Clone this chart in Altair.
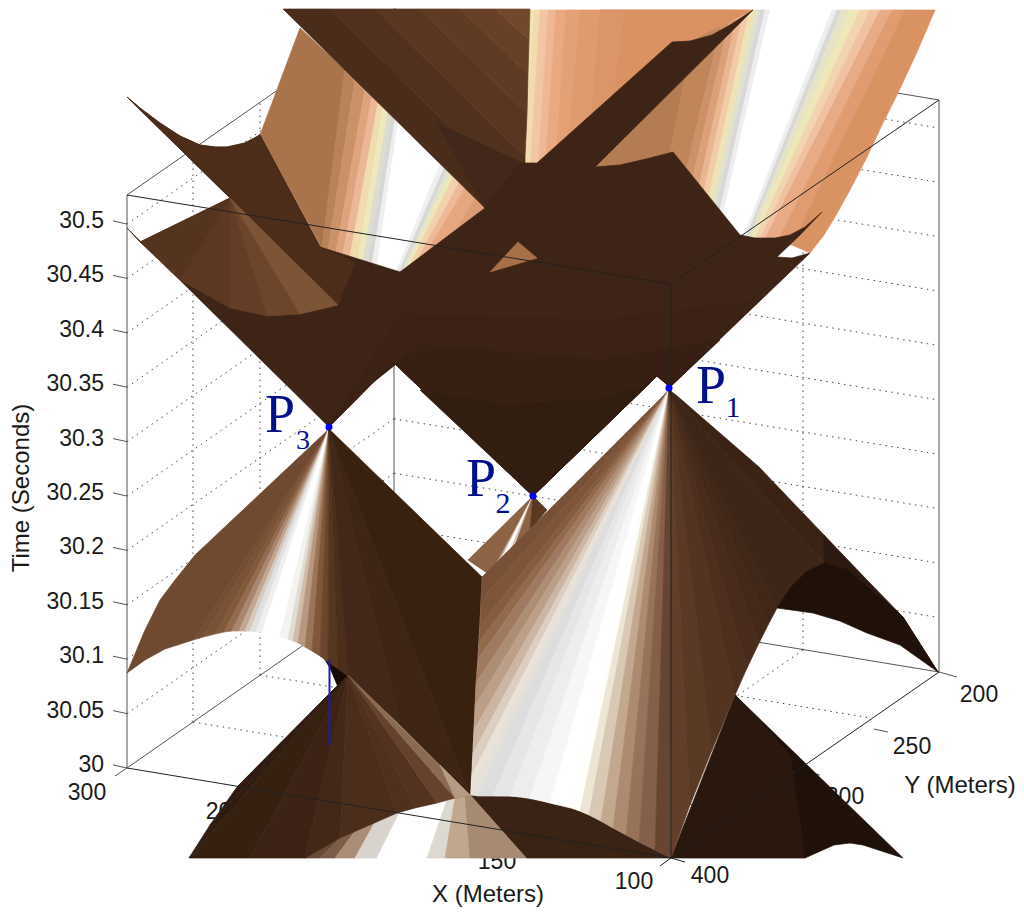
import altair as alt
import pandas as pd

Z_TICKS = ["30", "30.05", "30.1", "30.15", "30.2", "30.25", "30.3", "30.35", "30.4", "30.45", "30.5"]

def fan(apex, edge, colors):
    return [(c, [apex, edge[i], edge[i + 1]]) for i, c in enumerate(colors)]

def strips(tops, bots, colors):
    return [(c, [tops[i], tops[i + 1], bots[i + 1], bots[i]]) for i, c in enumerate(colors)]

# upper rear sheet, left window
A_TOP = [(300, 28), (345, 70), (355, 80), (365, 90), (372, 97), (378, 103), (383, 107), (388, 112), (392, 116),
         (395, 119), (398, 122), (440, 164), (444, 168), (447, 171), (450, 174), (453, 177), (459, 183), (465, 188),
         (475, 198), (485, 208)]
A_BOT = [(260, 135), (322, 248), (328, 250), (336, 252), (343, 254), (350, 257), (358, 259), (363, 261), (368, 263),
         (372, 265), (377, 267), (396, 272), (399, 272), (402, 272), (405, 270), (409, 267), (416, 262), (425, 255),
         (455, 232), (485, 208)]
A_COL = ["#a9734c", "#b98359", "#cb9269", "#dea47e", "#ecb796", "#f0dcae", "#eee9bd", "#dcdcd0", "#d6d6d6", "#efefef",
         "#ffffff", "#efefef", "#d8d8d8", "#e4e4cc", "#eee8b8", "#f2d2ac", "#efb998", "#e4a780", "#dc9d76"]
SHEET_A = strips(A_TOP, A_BOT, A_COL) + [("#b98359", [(320, 247), (322, 248), (260, 135)])]

# upper rear sheet, right window, below the dark band
S_TOP = [600, 700, 725, 732, 738, 744, 750, 755, 760, 765, 770, 832, 837, 842, 851, 860, 870, 880, 892, 905]
S_BOT = [560, 650, 668, 677, 686, 692, 698, 703, 708, 712, 716, 740, 743, 746, 749, 752, 757, 762, 776, 792]
S_COL = ["#b47c52", "#c08659", "#cc9168", "#dba079", "#eab692", "#f2cba9", "#efe3b4", "#e2e2cc", "#d8d8d8", "#eeeeee",
         "#ffffff", "#eeeeee", "#d8d8d8", "#e6e4c4", "#eee8b8", "#f2d4ae", "#f0c2a2", "#e8ab86", "#e09c70"]
SHEET_S = strips([(x, 10) for x in S_TOP], [(x, 245) for x in S_BOT], S_COL) + [
    ("#d99262", [(905, 10), (935, 10), (917, 52), (898, 93), (882, 125), (867, 157), (851, 188), (835, 217), (824, 235),
                 (810, 253), (792, 245)])]

# upper rear sheet, right window, above the dark band
Q_TOP = [528, 534, 540, 548, 556, 566, 580, 600, 625, 753]
Q_BOT = [(518, 170), (524, 170), (530, 170), (538, 170), (545, 170), (555, 170), (566, 165), (590, 140), (612, 118), (700, 36)]
Q_COL = ["#eee6b8", "#f2dcae", "#f3c6a3", "#efb793", "#eaa981", "#e4a176", "#df9a6e", "#dc9568", "#db9263"]
SHEET_Q = strips([(x, 10) for x in Q_TOP], Q_BOT, Q_COL)

TOP_SHEET = [
    ("#4a2c1a", [(283, 9), (330, 9), (525, 201), (485, 208)]),
    ("#51311d", [(330, 9), (375, 9), (525, 157), (525, 201)]),
    ("#583620", [(375, 9), (420, 9), (527, 114), (525, 157)]),
    ("#603b23", [(420, 9), (460, 9), (528, 74), (527, 114)]),
    ("#683f27", [(460, 9), (495, 9), (529, 40), (528, 74)]),
    ("#72482c", [(495, 9), (530, 9), (529, 40)]),
    ("#42281a", [(437, 123), (522, 163), (485, 208)]),
]
MAIN_DARK = [
    ("#3e2416", [(127, 97), (140, 108), (160, 123), (180, 136), (200, 145), (215, 147), (227, 147), (245, 143), (260, 135),
                 (320, 247), (400, 272), (485, 208), (520, 163), (537, 163), (672, 42), (690, 41), (712, 35), (730, 25),
                 (753, 10), (595, 167), (620, 165), (650, 158), (673, 152), (740, 235), (755, 238), (775, 238), (790, 235),
                 (805, 227), (822, 212), (800, 235), (777, 257), (792, 258), (810, 253), (670, 387), (657, 376), (533, 496),
                 (393, 362), (329, 427), (127, 228), (140, 242), (155, 249), (170, 252), (185, 249), (198, 241), (213, 227),
                 (223, 212), (230, 198)]),
    ("#3b2215", [(329, 427), (393, 362), (533, 496), (657, 376), (670, 387), (760, 300), (600, 320), (400, 315)]),
    ("#372013", [(329, 427), (393, 362), (533, 496), (657, 376), (670, 387), (720, 340), (600, 360), (420, 345), (370, 385)]),
    ("#321d11", [(420, 390), (533, 496), (650, 383), (600, 400), (500, 405)]),
    ("#4b2d1a", [(127, 97), (140, 108), (160, 123), (180, 136), (200, 145), (215, 147), (227, 147), (245, 143), (260, 135),
                 (320, 247), (355, 262), (338, 305), (230, 198)]),
    ("#55341f", [(140, 242), (155, 249), (170, 252), (185, 249), (198, 241), (213, 227), (223, 212), (230, 198)]),
]
F_EDGE = [(140, 242), (180, 280), (230, 308), (267, 316), (300, 314), (338, 305)]
F_COL = ["#55341f", "#5c3822", "#633d25", "#6d452b", "#7e5436"]
MAIN_DARK += fan((230, 198), F_EDGE, F_COL)
MAIN_DARK += [("#a87048", [(490, 272), (518, 242), (537, 258)])]

CONE_2 = fan((533, 496), [(468, 560), (490, 575), (498, 565), (508, 555), (514, 548), (530, 530), (547, 510)],
             ["#8c6344", "#c0a58f", "#ffffff", "#d8c8b8", "#8c6344", "#5a3822"])
SLIVER = [("#140a05", [(322, 655), (348, 675), (338, 687), (330, 668)])]

C3_ARC = [(193, 640), (203, 637), (215, 634), (224, 632), (232, 631), (239, 631), (245, 631), (250, 631), (256, 632),
          (262, 633), (280, 637), (288, 639), (293, 641), (298, 643), (305, 647), (312, 651), (320, 656), (328, 662),
          (338, 669), (348, 676), (400, 725), (470, 795), (482, 577)]
C3_COL = ["#744d32", "#7a5237", "#83593c", "#946b4e", "#a98670", "#c2a692", "#d6c9bd", "#e0e0e0", "#efefef", "#ffffff",
          "#f4f3ef", "#e0dcd4", "#d0bca8", "#b89880", "#9c7558", "#80573b", "#6b462c", "#57361f", "#4c2e1b", "#43281a",
          "#3f2516", "#38210f"]
CONE_3 = [("#6f4a30", [(329, 429), (195, 555), (175, 580), (160, 600), (145, 630), (127, 673), (145, 660), (165, 649), (193, 640)])] + \
    fan((329, 429), C3_ARC, C3_COL)

B_TOP = [(305, 858), (320, 849), (340, 838), (355, 831), (375, 822), (400, 812), (447, 800), (455, 798), (465, 796), (471, 795)]
B_BOT = [(305, 858), (305, 858), (320, 858), (335, 858), (355, 858), (377, 858), (427, 858), (445, 858), (470, 858), (527, 858)]
B_COL = ["#5a3a25", "#6a4a35", "#7c5d47", "#a98d76", "#d8d3cc", "#ffffff", "#dcdad0", "#c2a78f", "#a78a72"]
BOTTOM_LIT = strips(B_TOP, B_BOT, B_COL)

L_EDGE = [(338, 687), (290, 735), (237, 787), (210, 825), (189, 858), (250, 858), (305, 858), (340, 838), (397, 813),
          (415, 808), (437, 803), (455, 798), (470, 795)]
L_COL = ["#2f1b10", "#2f1b10", "#2f1b10", "#2f1b10", "#36200f", "#3c2315", "#432818", "#4a2d1b", "#4f301d", "#53331f", "#64422b", "#8a6a52"]
BOTTOM_LEFT = fan((348, 675), L_EDGE, L_COL) + [("#b59a84", [(440, 765), (470, 795), (455, 798)])]

FRONT_DARK = [
    ("#3a2214", [(471, 795), (518, 797), (545, 802), (571, 808), (589, 815), (613, 828), (639, 842), (671, 858), (527, 858)]),
    ("#2a170d", [(671, 858), (735, 695), (790, 755), (805, 858)]),
    ("#1f1109", [(735, 695), (903, 858), (863, 845), (850, 843), (834, 845), (805, 858), (790, 755)]),
]
C1_EDGE = [(482, 577), (481, 600), (480, 625), (479, 642), (478, 659), (476, 683), (475, 706), (474, 730), (473, 753),
           (472, 775), (471, 795), (478, 796), (493, 796), (510, 796), (530, 798), (550, 803), (571, 808), (580, 811),
           (589, 815), (601, 821), (613, 828), (626, 835), (639, 842), (655, 850), (671, 858), (690, 805), (712, 750),
           (735, 695), (747, 668), (759, 643), (768, 625), (777, 608), (824, 563)]
C1_COL = ["#775036", "#7e5539", "#865c40", "#93694c", "#a07a60", "#ae8d75", "#bc9f88", "#ccb5a2", "#dccfc1", "#e8e2d8",
          "#e4e0da", "#dddddd", "#e6e6e6", "#ededed", "#f6f6f6", "#ffffff", "#fffefa", "#ece6d5", "#d8c8b4", "#c4a78f",
          "#ad8b71", "#977359", "#84604a", "#684530", "#623f2a", "#5a3a25", "#533421", "#4d2f1d", "#482b1b", "#442919",
          "#412718", "#3d2517"]
CONE_1 = fan((669, 390), C1_EDGE, C1_COL) + [
    ("#3a2315", [(669, 390), (824, 563), (849, 570), (824, 535), (759, 467), (676, 395)]),
    ("#2c190f", [(824, 563), (849, 570), (880, 597), (938, 672), (903, 617), (867, 580), (824, 535)]),
    ("#1f1109", [(777, 608), (791, 587), (806, 572), (824, 563), (849, 570), (880, 597), (903, 617), (938, 672),
                 (900, 645), (867, 633), (840, 621), (813, 613)]),
]

SURFACES = SHEET_A + SHEET_S + SHEET_Q + TOP_SHEET + MAIN_DARK + CONE_2 + SLIVER + CONE_3 + \
    BOTTOM_LIT + BOTTOM_LEFT + FRONT_DARK + CONE_1

rows = []
for pid, (color, pts) in enumerate(SURFACES):
    for x, y in pts:
        rows.append({"pid": pid, "seq": len(rows), "x": x, "y": y, "c": color})
surf_df = pd.DataFrame(rows)

ZSTEP = 54.4
dotted, back, front = [], [], []
def seg2(bucket, a, b):
    gid = bucket[-1]["g"] + 1 if bucket else 0
    bucket.append({"g": gid, "o": 0, "x": a[0], "y": a[1]})
    bucket.append({"g": gid, "o": 1, "x": b[0], "y": b[1]})

for k in range(1, 11):
    seg2(dotted, (127, 768 - ZSTEP * k), (394, 582 - ZSTEP * k))
    seg2(dotted, (394, 582 - ZSTEP * k), (939, 672 - ZSTEP * k))
for x, y in [(193, 722), (260, 675), (327, 628)]:
    seg2(dotted, (x, y), (x, y - 573))
    seg2(dotted, (x, y), (x + 544, y + 90))
for x, y in [(530, 604), (667, 627), (803, 650)]:
    seg2(dotted, (x, y), (x, y - 573))
    seg2(dotted, (x, y), (x - 267, y + 186))

BACK_LINES = [((127, 195), (127, 768)), ((939, 100), (939, 672)), ((394, 9), (394, 582)),
              ((127, 195), (394, 9)), ((394, 9), (939, 100)), ((127, 768), (394, 582)), ((394, 582), (939, 672)),
              ((115, 776), (127, 768)), ((939, 672), (957, 677)), ((874, 729), (888, 732)), ((808, 772), (820, 775))] + \
             [((113, 765 - ZSTEP * k), (127, 768 - ZSTEP * k)) for k in range(0, 11)]
FRONT_LINES = [((127, 195), (671, 284)), ((671, 284), (939, 100)), ((671, 284), (671, 858)),
               ((127, 768), (671, 858)), ((671, 858), (939, 672)), ((671, 858), (660, 866)), ((671, 858), (685, 862))]
for a, b in BACK_LINES:
    seg2(back, a, b)
for a, b in FRONT_LINES:
    seg2(front, a, b)

X = alt.X("x:Q", axis=None, scale=alt.Scale(domain=[8, 1016], nice=False, zero=False))
Y = alt.Y("y:Q", axis=None, scale=alt.Scale(domain=[915, 8], nice=False, zero=False))

def lines(data, color, width, dash=None):
    kw = {"strokeDash": dash} if dash else {}
    return alt.Chart(pd.DataFrame(data)).mark_line(color=color, strokeWidth=width, **kw).encode(
        x=X, y=Y, detail="g:N", order="o:Q")

def texts(items, font, color, angle=0, align="center"):
    df = pd.DataFrame(items, columns=["t", "x", "y", "s"])
    return alt.Chart(df).mark_text(font=font, color=color, angle=angle, align=align, baseline="middle").encode(
        x=X, y=Y, text="t:N", size=alt.Size("s:Q", scale=None, legend=None))

surfaces = alt.Chart(surf_df).mark_line(interpolate="linear-closed", strokeWidth=0.7).encode(
    x=X, y=Y, detail="pid:N", order="seq:Q",
    fill=alt.Fill("c:N", scale=None, legend=None),
    stroke=alt.Stroke("c:N", scale=None, legend=None))

Z_POS = [(t, 104, 765 - ZSTEP * k, 23) for k, t in enumerate(Z_TICKS)]
HIDDEN_LABELS = [("200", 225, 812, 23), ("150", 497, 862, 23), ("300", 845, 797, 23)]
AXIS_LABELS = [("300", 87, 793, 23), ("100", 634, 882, 23), ("400", 710, 876, 23), ("200", 979, 695, 23),
               ("250", 912, 747, 23), ("Y (Meters)", 960, 786, 24), ("X (Meters)", 488, 895, 24)]
P_LABELS = [("P", 711, 387, 54), ("P", 280, 416, 54), ("P", 481, 480, 54)]
SUB_LABELS = [("1", 733, 408, 30), ("3", 303, 441, 28), ("2", 503, 504, 30)]
P_POINTS = pd.DataFrame({"x": [669, 533, 329], "y": [388, 496, 427]})
STEM = [{"g": 0, "o": 0, "x": 329.5, "y": 660}, {"g": 0, "o": 1, "x": 329.5, "y": 745}]

chart = alt.layer(
    lines(dotted, "#444444", 1, [1.5, 4.5]),
    lines(back, "#555555", 1),
    texts(HIDDEN_LABELS, "Liberation Sans", "#1a1a1a"),
    surfaces,
    lines(STEM, "#1c1ca8", 2),
    lines(front, "#222222", 1),
    texts(Z_POS, "Liberation Sans", "#1a1a1a", align="right"),
    texts(AXIS_LABELS, "Liberation Sans", "#1a1a1a"),
    texts([("Time (Seconds)", 22, 488, 24)], "Liberation Sans", "#1a1a1a", angle=270),
    texts(P_LABELS + SUB_LABELS, "Liberation Serif", "#00108c"),
    alt.Chart(P_POINTS).mark_point(filled=True, color="#0000ff", size=50, opacity=1).encode(x=X, y=Y),
).properties(width=1008, height=907, padding=0, background="white",
             autosize=alt.AutoSizeParams(type="none")).configure_view(stroke=None)

chart.save("out.html", embed_options={"renderer": "svg", "actions": False})
